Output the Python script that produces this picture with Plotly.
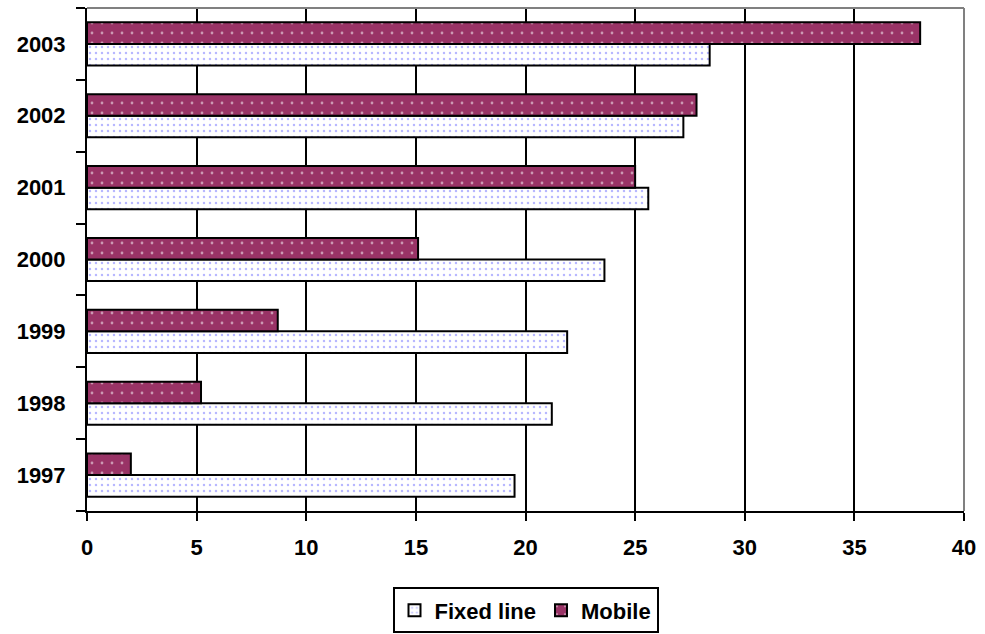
import plotly.graph_objects as go

years = ["1997", "1998", "1999", "2000", "2001", "2002", "2003"]
fixed_line = [19.5, 21.2, 21.9, 23.6, 25.6, 27.2, 28.4]
mobile = [2.0, 5.2, 8.7, 15.1, 25.0, 27.8, 38.0]
x_ticks = [0, 5, 10, 15, 20, 25, 30, 35, 40]

FONT = "Liberation Sans, Arial, sans-serif"

fig = go.Figure()
fig.add_trace(go.Bar(
    y=years, x=fixed_line, orientation="h", name="<b>Fixed line</b>",
    marker=dict(
        color="white",
        line=dict(color="black", width=2),
        pattern=dict(shape=".", fillmode="overlay", bgcolor="white",
                     fgcolor="#7070ff", size=6, solidity=0.13),
    ),
))
fig.add_trace(go.Bar(
    y=years, x=mobile, orientation="h", name="<b>Mobile</b>",
    marker=dict(
        color="#993366",
        line=dict(color="black", width=2),
        pattern=dict(shape=".", fillmode="overlay", bgcolor="#993366",
                     fgcolor="white", size=10, solidity=0.06),
    ),
))

fig.update_layout(
    width=985, height=634,
    margin=dict(l=87, r=21, t=8, b=123, autoexpand=False),
    paper_bgcolor="white", plot_bgcolor="white",
    barmode="group", bargap=0.4, bargroupgap=0,
    font=dict(family=FONT, size=22, color="black"),
    showlegend=True,
    legend=dict(
        orientation="h", x=0.5, xanchor="center", y=-0.152, yanchor="top",
        bordercolor="black", borderwidth=2, font=dict(size=22),
        itemwidth=30, tracegroupgap=0,
    ),
    xaxis=dict(
        range=[0, 40], tickvals=x_ticks, ticktext=[f"<b>{v}</b>" for v in x_ticks],
        showgrid=True, gridcolor="black", gridwidth=2,
        showline=True, linecolor="black", linewidth=2,
        ticks="outside", ticklen=8, tickwidth=2, tickcolor="black",
        ticklabelstandoff=8,
        zeroline=False, fixedrange=True,
    ),
    yaxis=dict(
        type="category", categoryorder="array", categoryarray=years,
        tickvals=years, ticktext=[f"<b>{y}</b>" for y in years],
        showgrid=False, showline=True, linecolor="black", linewidth=2,
        ticks="outside", ticklen=9, tickwidth=2, tickcolor="black",
        tickson="boundaries", ticklabelstandoff=15,
    ),
)

# gray top and right frame of the plot area
fig.add_shape(type="line", xref="paper", yref="paper", x0=0, x1=1, y0=1, y1=1,
              line=dict(color="#808080", width=2))
fig.add_shape(type="line", xref="paper", yref="paper", x0=1, x1=1, y0=0, y1=1,
              line=dict(color="#808080", width=2))

fig.write_html("out.html")
